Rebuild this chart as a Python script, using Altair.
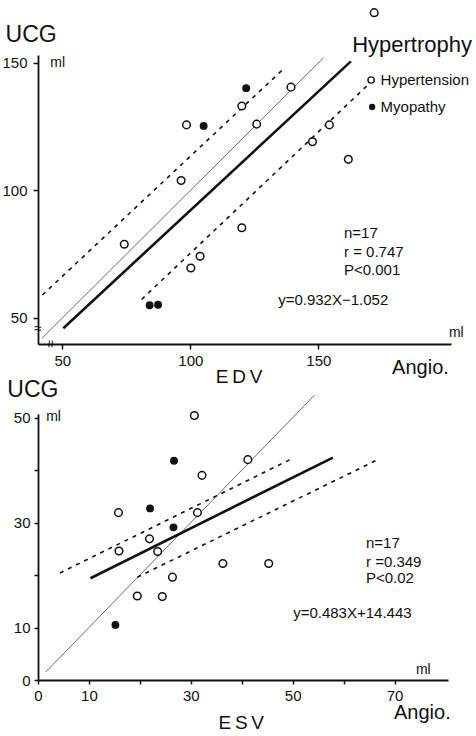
import altair as alt
import pandas as pd

FONT = "Liberation Sans"
INK = "#111111"

# ---------------- EDV (top) ----------------
edv_open_x = [171.8, 139.3, 120.1, 98.5, 125.9, 154.3, 147.7, 161.7, 96.4, 120.1, 74.2, 103.8, 100.2]
edv_open_y = [169.7, 140.5, 133.1, 125.7, 126.0, 125.7, 119.1, 112.2, 103.9, 85.4, 78.9, 74.2, 69.6]
edv_fill_x = [121.8, 105.2, 84.1, 87.4]
edv_fill_y = [140.1, 125.3, 55.0, 55.2]
edv_ident_x = [42.0, 152.0]
edv_ident_y = [42.0, 152.0]
edv_reg_x = [50.4, 162.7]
edv_reg_y = [46.0, 150.6]
edv_up_x = [42.2, 135.7]
edv_up_y = [59.0, 147.0]
edv_lo_x = [81.0, 169.5]
edv_lo_y = [57.3, 141.5]
edv_ticks = [50, 100, 150]

# ---------------- ESV (bottom) ----------------
esv_open_x = [30.7, 41.2, 32.2, 15.8, 31.3, 21.9, 15.9, 23.5, 36.3, 45.3, 26.4, 19.5, 24.4]
esv_open_y = [50.4, 42.0, 39.0, 31.9, 31.9, 26.9, 24.6, 24.5, 22.2, 22.2, 19.6, 16.0, 15.9]
esv_fill_x = [26.7, 22.0, 26.6, 15.2]
esv_fill_y = [41.8, 32.7, 29.1, 10.5]
esv_ident_x = [1.5, 54.3]
esv_ident_y = [1.5, 54.3]
esv_reg_x = [10.3, 57.9]
esv_reg_y = [19.4, 42.4]
esv_up_x = [4.3, 50.1]
esv_up_y = [20.4, 42.3]
esv_lo_x = [19.5, 66.3]
esv_lo_y = [19.6, 41.8]
esv_xticks = [0, 10, 20, 30, 40, 50, 60, 70]
esv_xlabels = [0, 10, 30, 50, 70]
esv_yticks = [0, 10, 20, 30, 40, 50]
esv_ylabels = [0, 10, 30, 50]

# annotation texts: (text, x, y, size, align)
edv_texts = [
    ("UCG", 37.8, 161.0, 23, "center"),
    ("ml", 45.3, 150.0, 14, "left"),
    ("Hypertrophy", 163.2, 157.1, 22, "left"),
    ("Hypertension", 174.3, 143.3, 15, "left"),
    ("Myopathy", 174.3, 132.7, 15, "left"),
    ("n=17", 160.0, 83.3, 15, "left"),
    ("r = 0.747", 160.0, 75.9, 15, "left"),
    ("P<0.001", 160.0, 68.8, 15, "left"),
    ("y=0.932X\u22121.052", 134.3, 57.1, 15, "left"),
    ("ml", 201.0, 44.3, 14, "left"),
    ("Angio.", 178.8, 30.4, 20, "left"),
    ("E\u2009D\u2009V", 119.0, 26.9, 19, "center"),
]
edv_legend_open = [(170.6, 143.3)]
edv_legend_fill = [(171.0, 132.7)]
# axis-break marks: (x, y, angle)
edv_breaks = [(40.5, 45.6, 0), (45.0, 39.8, 90)]

esv_texts = [
    ("UCG", -1.0, 55.2, 23, "center"),
    ("ml", 1.6, 50.1, 14, "left"),
    ("n=17", 64.4, 26.1, 15, "left"),
    ("r =0.349", 64.4, 22.5, 15, "left"),
    ("P<0.02", 64.4, 19.4, 15, "left"),
    ("y=0.483X+14.443", 50.1, 12.8, 15, "left"),
    ("ml", 74.2, 1.9, 14, "left"),
    ("Angio.", 69.9, -6.3, 20, "left"),
    ("E\u2009S\u2009V", 39.9, -8.2, 19, "center"),
]


def seg(xs, ys):
    return pd.DataFrame({"x": xs, "y": ys})


def panel(xdom, ydom, w, h, xaxis, yaxis, open_xy, fill_xy, ident, reg, up, lo, texts,
          leg_open=None, leg_fill=None, breaks=None):
    xs = alt.Scale(domain=xdom, nice=False, zero=False)
    ys = alt.Scale(domain=ydom, nice=False, zero=False)

    def enc(base):
        return base.encode(
            x=alt.X("x:Q", scale=xs, axis=xaxis),
            y=alt.Y("y:Q", scale=ys, axis=yaxis),
        )

    layers = []
    layers.append(enc(alt.Chart(seg(*ident)).mark_line(color="#6b6b6b", strokeWidth=1)))
    layers.append(enc(alt.Chart(seg(*reg)).mark_line(color=INK, strokeWidth=2.6)))
    layers.append(enc(alt.Chart(seg(*up)).mark_line(color=INK, strokeWidth=1.6, strokeDash=[4, 5])))
    layers.append(enc(alt.Chart(seg(*lo)).mark_line(color=INK, strokeWidth=1.6, strokeDash=[4, 5])))
    layers.append(enc(alt.Chart(seg(*open_xy)).mark_point(
        shape="circle", size=58, filled=True, fill="white", stroke=INK, strokeWidth=1.5, opacity=1)))
    layers.append(enc(alt.Chart(seg(*fill_xy)).mark_point(
        shape="circle", size=62, filled=True, color=INK, opacity=1)))
    if leg_open:
        layers.append(enc(alt.Chart(seg([p[0] for p in leg_open], [p[1] for p in leg_open])).mark_point(
            shape="circle", size=40, filled=True, fill="white", stroke=INK, strokeWidth=1.4, opacity=1)))
    if leg_fill:
        layers.append(enc(alt.Chart(seg([p[0] for p in leg_fill], [p[1] for p in leg_fill])).mark_point(
            shape="circle", size=40, filled=True, color=INK, opacity=1)))
    if breaks:
        for bx, by, ang in breaks:
            layers.append(enc(alt.Chart(seg([bx], [by])).mark_text(
                text="\u2248", fontSize=14, angle=ang, align="center", baseline="middle",
                font=FONT, color=INK)))
    for align in ["left", "center"]:
        rows = [t for t in texts if t[4] == align]
        if not rows:
            continue
        df = pd.DataFrame({
            "t": [r[0] for r in rows], "x": [r[1] for r in rows],
            "y": [r[2] for r in rows], "fs": [r[3] for r in rows],
        })
        layers.append(alt.Chart(df).mark_text(align=align, baseline="middle", font=FONT, color=INK).encode(
            x=alt.X("x:Q", scale=xs, axis=xaxis),
            y=alt.Y("y:Q", scale=ys, axis=yaxis),
            text="t:N",
            size=alt.Size("fs:Q", scale=None, legend=None),
        ))
    return alt.layer(*layers).properties(width=w, height=h)


axis_common = dict(title=None, grid=False, domainColor=INK, domainWidth=1.8, tickColor=INK,
                   tickWidth=1.5, labelColor=INK, labelFont=FONT, labelFontSize=15, labelFlush=False)

top = panel(
    [40.5, 201.8], [39.8, 153.1], 413, 289,
    alt.Axis(values=edv_ticks, tickSize=5, labelPadding=4, **axis_common),
    alt.Axis(values=edv_ticks, tickSize=5, labelPadding=6, **axis_common),
    (edv_open_x, edv_open_y), (edv_fill_x, edv_fill_y),
    (edv_ident_x, edv_ident_y), (edv_reg_x, edv_reg_y),
    (edv_up_x, edv_up_y), (edv_lo_x, edv_lo_y), edv_texts,
    leg_open=edv_legend_open, leg_fill=edv_legend_fill, breaks=edv_breaks,
)

xl = "[" + ",".join(str(v) for v in esv_xlabels) + "]"
yl = "[" + ",".join(str(v) for v in esv_ylabels) + "]"
bottom = panel(
    [0, 80.5], [0, 50.7], 410, 266,
    alt.Axis(values=esv_xticks, tickSize=4, labelPadding=4,
             labelExpr=f"indexof({xl}, datum.value) >= 0 ? datum.label : ''", **axis_common),
    alt.Axis(values=esv_yticks, tickSize=4, labelPadding=4,
             labelExpr=f"indexof({yl}, datum.value) >= 0 ? datum.label : ''", **axis_common),
    (esv_open_x, esv_open_y), (esv_fill_x, esv_fill_y),
    (esv_ident_x, esv_ident_y), (esv_reg_x, esv_reg_y),
    (esv_up_x, esv_up_y), (esv_lo_x, esv_lo_y), esv_texts,
)

chart = alt.vconcat(top, bottom, spacing=70, bounds="flush").properties(
    padding={"left": 1, "top": 5, "right": 0, "bottom": 0},
    background="white",
).configure_view(stroke=None)

chart.save("out.html", embed_options={"renderer": "svg", "actions": False})
